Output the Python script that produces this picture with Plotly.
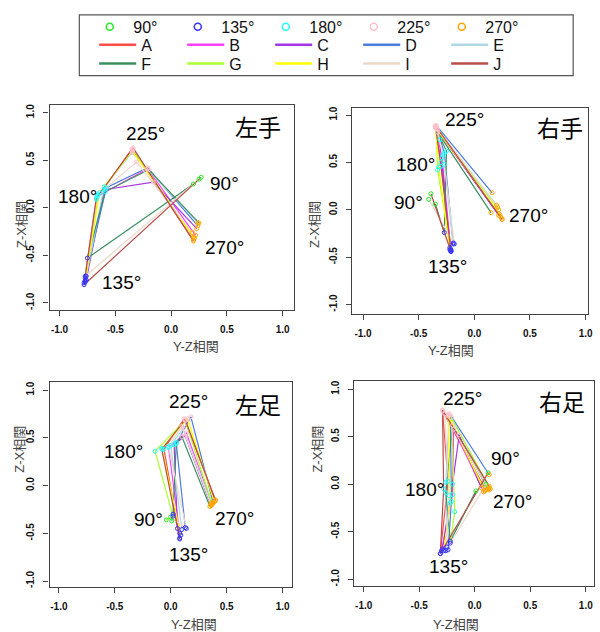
import plotly.graph_objects as go

# ---------------- data ----------------
series_names = ["A", "B", "C", "D", "E", "F", "G", "H", "I", "J"]
series_colors = ["#ff4d4d", "#ff40ff", "#a535e6", "#4f7bdc", "#add8e6",
                 "#3a8f5f", "#adff2f", "#ffff00", "#ead9c8", "#b84c48"]
angle_labels = ["90°", "135°", "180°", "225°", "270°"]
angle_colors = ["#22ee22", "#3333ff", "#22ffff", "#ffc0cb", "#ffa500"]
tick_vals = [-1.0, -0.5, 0.0, 0.5, 1.0]
tick_text = ["-1.0", "-0.5", "0.0", "0.5", "1.0"]
panel_titles = ["左手", "右手", "左足", "右足"]
x_title = "Y-Z相関"
y_title = "Z-X相関"

# each row: one series (A..J); columns: 90°, 135°, 180°, 225°, 270°
# 左手
lh_yz = [
    [None, -0.78, -0.67, -0.35, 0.20],
    [None, -0.77, -0.66, -0.21, 0.22],
    [None, -0.76, -0.60, -0.16, 0.23],
    [None, -0.77, -0.58, -0.21, 0.24],
    [None, -0.76, -0.60, -0.35, 0.24],
    [0.20, -0.75, -0.59, -0.20, 0.25],
    [None, -0.77, -0.65, -0.34, 0.20],
    [None, -0.77, -0.64, -0.35, 0.21],
    [0.25, -0.77, -0.66, -0.31, 0.19],
    [0.27, -0.78, -0.67, -0.34, 0.20],
]
lh_zx = [
    [None, -0.79, 0.09, 0.62, -0.34],
    [None, -0.77, 0.12, 0.41, -0.29],
    [None, -0.76, 0.19, 0.27, -0.22],
    [None, -0.74, 0.21, 0.42, -0.19],
    [None, -0.72, 0.22, 0.58, -0.16],
    [0.25, -0.53, 0.17, 0.40, -0.16],
    [None, -0.78, 0.14, 0.61, -0.31],
    [None, -0.77, 0.16, 0.60, -0.32],
    [0.30, -0.72, 0.13, 0.48, -0.26],
    [0.32, -0.81, 0.10, 0.63, -0.35],
]
# 右手
rh_yz = [
    [None, -0.21, -0.30, -0.35, 0.24],
    [None, -0.21, -0.29, -0.35, 0.25],
    [None, -0.22, -0.31, -0.34, 0.22],
    [None, -0.19, -0.27, -0.34, 0.16],
    [None, -0.19, -0.28, -0.35, 0.20],
    [-0.35, -0.27, -0.25, -0.33, 0.15],
    [None, -0.21, -0.33, -0.34, 0.22],
    [None, -0.22, -0.32, -0.35, 0.23],
    [-0.41, -0.18, -0.27, -0.33, 0.21],
    [-0.39, -0.21, -0.30, -0.35, 0.25],
]
rh_zx = [
    [None, -0.42, 0.50, 0.88, -0.08],
    [None, -0.44, 0.55, 0.87, -0.10],
    [None, -0.40, 0.74, 0.86, -0.06],
    [None, -0.35, 0.60, 0.89, 0.18],
    [None, -0.36, 0.58, 0.88, 0.05],
    [0.06, -0.24, 0.62, 0.82, -0.03],
    [None, -0.43, 0.42, 0.86, 0.00],
    [None, -0.42, 0.45, 0.87, -0.05],
    [0.11, -0.36, 0.48, 0.85, 0.03],
    [0.17, -0.44, 0.46, 0.89, -0.10],
]
# 左足
lf_yz = [
    [None, 0.08, -0.06, 0.12, 0.40],
    [None, 0.08, -0.02, 0.14, 0.37],
    [None, 0.06, 0.03, 0.13, 0.36],
    [None, 0.13, 0.05, 0.18, 0.38],
    [None, 0.10, 0.00, 0.11, 0.36],
    [0.01, 0.02, 0.05, 0.10, 0.35],
    [-0.04, 0.02, -0.14, 0.13, 0.37],
    [None, 0.09, -0.08, 0.15, 0.39],
    [0.00, 0.14, -0.02, 0.10, 0.36],
    [None, 0.08, -0.08, 0.13, 0.40],
]
lf_zx = [
    [None, -0.55, 0.38, 0.70, -0.15],
    [None, -0.50, 0.40, 0.55, -0.20],
    [None, -0.45, 0.43, 0.52, -0.21],
    [None, -0.44, 0.44, 0.72, -0.18],
    [None, -0.46, 0.42, 0.60, -0.18],
    [-0.37, -0.30, 0.45, 0.51, -0.22],
    [-0.36, -0.32, 0.36, 0.68, -0.19],
    [None, -0.52, 0.39, 0.70, -0.17],
    [-0.33, -0.45, 0.41, 0.62, -0.20],
    [None, -0.56, 0.38, 0.69, -0.16],
]
# 右足
rf_yz = [
    [None, -0.31, -0.24, -0.29, 0.10],
    [None, -0.30, -0.20, -0.19, 0.08],
    [None, -0.29, -0.20, -0.14, 0.06],
    [None, -0.24, -0.21, -0.22, 0.13],
    [None, -0.25, -0.26, -0.23, 0.13],
    [0.01, -0.22, -0.26, -0.20, 0.12],
    [None, -0.22, -0.18, -0.21, 0.14],
    [None, -0.28, -0.22, -0.24, 0.09],
    [0.10, -0.26, -0.23, -0.27, 0.13],
    [0.12, -0.31, -0.28, -0.29, 0.13],
]
rf_zx = [
    [None, -0.73, 0.03, 0.77, -0.06],
    [None, -0.70, -0.11, 0.58, -0.08],
    [None, -0.68, 0.00, 0.52, -0.04],
    [None, -0.69, -0.18, 0.73, 0.10],
    [None, -0.66, 0.02, 0.74, -0.04],
    [-0.07, -0.60, -0.09, 0.62, -0.05],
    [None, -0.62, -0.29, 0.70, -0.05],
    [None, -0.70, -0.20, 0.72, -0.07],
    [0.00, -0.70, -0.12, 0.74, -0.06],
    [0.12, -0.73, -0.05, 0.78, -0.02],
]

panel_x = [lh_yz, rh_yz, lf_yz, rf_yz]
panel_y = [lh_zx, rh_zx, lf_zx, rf_zx]

# ---------------- layout geometry (pixels) ----------------
W, H = 600, 632
boxes = [
    (50, 296, 103, 309, [-1.089, 1.098], [-1.071, 1.086]),
    (355, 593, 107, 313, [-1.099, 1.022], [-1.095, 1.070]),
    (50, 294, 382, 588, [-1.083, 1.080], [-1.065, 1.083]),
    (357, 599, 381, 587, [-1.087, 1.074], [-1.073, 1.084]),
]
label_pos = [
    [(0.48, 0.25), (-0.44, -0.79), (-0.84, 0.12), (-0.23, 0.78), (0.48, -0.42), (0.78, 0.84)],
    [(-0.59, 0.08), (-0.24, -0.60), (-0.53, 0.48), (-0.09, 0.95), (0.49, -0.06), (0.77, 0.85)],
    [(-0.20, -0.36), (0.16, -0.72), (-0.42, 0.36), (0.16, 0.88), (0.57, -0.34), (0.78, 0.83)],
    [(0.28, 0.27), (-0.24, -0.87), (-0.45, -0.06), (-0.11, 0.90), (0.34, -0.18), (0.79, 0.85)],
]
# x-title: (center x, top y) in px ; y-title: (center x, center y)
xtitle_pos = [(172, 337), (480, 341), (170, 616), (485, 616)]
ytitle_pos = [(12, 198), (317, 198), (10, 475), (320, 475)]

FONT = "Arial, 'Liberation Sans', 'Noto Sans CJK JP', sans-serif"

fig = go.Figure()
layout = dict(
    width=W, height=H, margin=dict(l=0, r=0, t=0, b=0),
    paper_bgcolor="white", plot_bgcolor="white",
    font=dict(family=FONT, color="#111"),
    showlegend=True,
)
annotations = []
shapes = []

for p in range(4):
    x0, x1, y0, y1, xr, yr = boxes[p]
    sx = "" if p == 0 else str(p + 1)
    xa, ya = "x" + sx, "y" + sx
    layout["xaxis" + sx] = dict(
        domain=[x0 / W, x1 / W], range=xr, anchor=ya,
        showline=True, mirror=True, linecolor="#444", linewidth=1.4,
        ticks="outside", ticklen=5, tickcolor="#444", tickwidth=1,
        tickvals=tick_vals, ticktext=tick_text, ticklabelstandoff=5,
        tickfont=dict(size=10, color="#111", weight="bold"),
        showgrid=False, zeroline=False, fixedrange=True,
    )
    layout["yaxis" + sx] = dict(
        domain=[1 - y1 / H, 1 - y0 / H], range=yr, anchor=xa,
        showline=True, mirror=True, linecolor="#444", linewidth=1.4,
        ticks="outside", ticklen=5, tickcolor="#444", tickwidth=1,
        tickvals=tick_vals, ticktext=tick_text, tickangle=-90, ticklabelstandoff=5,
        tickfont=dict(size=10, color="#111", weight="bold"),
        showgrid=False, zeroline=False, fixedrange=True,
    )
    xs, ys = panel_x[p], panel_y[p]
    for s in range(len(series_names)):
        fig.add_trace(go.Scatter(
            x=xs[s], y=ys[s], mode="lines", xaxis=xa, yaxis=ya,
            line=dict(color=series_colors[s], width=1.2),
            name=series_names[s], showlegend=False, hoverinfo="skip",
        ))
    for a in range(len(angle_labels)):
        mx = [xs[s][a] for s in range(len(series_names)) if xs[s][a] is not None]
        my = [ys[s][a] for s in range(len(series_names)) if xs[s][a] is not None]
        fig.add_trace(go.Scatter(
            x=mx, y=my, mode="markers", xaxis=xa, yaxis=ya,
            marker=dict(symbol="circle-open", size=4, color=angle_colors[a],
                        line=dict(width=1, color=angle_colors[a])),
            name=angle_labels[a], showlegend=False, hoverinfo="skip",
        ))
    for a in range(len(angle_labels)):
        lx, ly = label_pos[p][a]
        annotations.append(dict(x=lx, y=ly, xref=xa, yref=ya, text=angle_labels[a],
                                showarrow=False, font=dict(size=19, color="black")))
    tx, ty = label_pos[p][5]
    annotations.append(dict(x=tx, y=ty, xref=xa, yref=ya, text=panel_titles[p],
                            showarrow=False, font=dict(size=23, color="black")))
    ax_, ay_ = xtitle_pos[p]
    annotations.append(dict(x=ax_ / W, y=1 - ay_ / H, xref="paper", yref="paper",
                            yanchor="top", text=x_title, showarrow=False,
                            font=dict(size=13, color="#444")))
    bx_, by_ = ytitle_pos[p]
    annotations.append(dict(x=bx_ / W, y=1 - by_ / H, xref="paper", yref="paper",
                            text=y_title, showarrow=False, textangle=-90,
                            font=dict(size=13, color="#444")))

# legend entries (legend-only traces)
for a in range(len(angle_labels)):
    fig.add_trace(go.Scatter(
        x=[None], y=[None], mode="markers", name=angle_labels[a], legend="legend",
        marker=dict(symbol="circle-open", size=7, color=angle_colors[a],
                    line=dict(width=1.5, color=angle_colors[a])),
        showlegend=True, hoverinfo="skip"))
for s in range(len(series_names)):
    fig.add_trace(go.Scatter(
        x=[None], y=[None], mode="lines", name=series_names[s],
        legend="legend2" if s < 5 else "legend3",
        line=dict(color=series_colors[s], width=2.5),
        showlegend=True, hoverinfo="skip"))

shapes.append(dict(type="rect", xref="paper", yref="paper",
                   x0=80 / W, x1=578 / W, y0=1 - 74 / H, y1=1 - 13 / H,
                   line=dict(color="#555", width=1.2), fillcolor="rgba(0,0,0,0)"))

leg_common = dict(orientation="h", xanchor="left", yanchor="middle",
                  entrywidth=36, entrywidthmode="pixels", itemwidth=37,
                  traceorder="normal",
                  font=dict(size=16, color="#111"), bgcolor="rgba(0,0,0,0)",
                  borderwidth=0)
layout["legend"] = dict(x=87 / W, y=1 - 25 / H, **leg_common)
layout["legend2"] = dict(x=95 / W, y=1 - 43 / H, **leg_common)
layout["legend3"] = dict(x=95 / W, y=1 - 62 / H, **leg_common)
layout["annotations"] = annotations
layout["shapes"] = shapes
fig.update_layout(**layout)
fig.write_html("out.html", config={"displayModeBar": False},
               post_script="document.body.style.margin='0px';")
